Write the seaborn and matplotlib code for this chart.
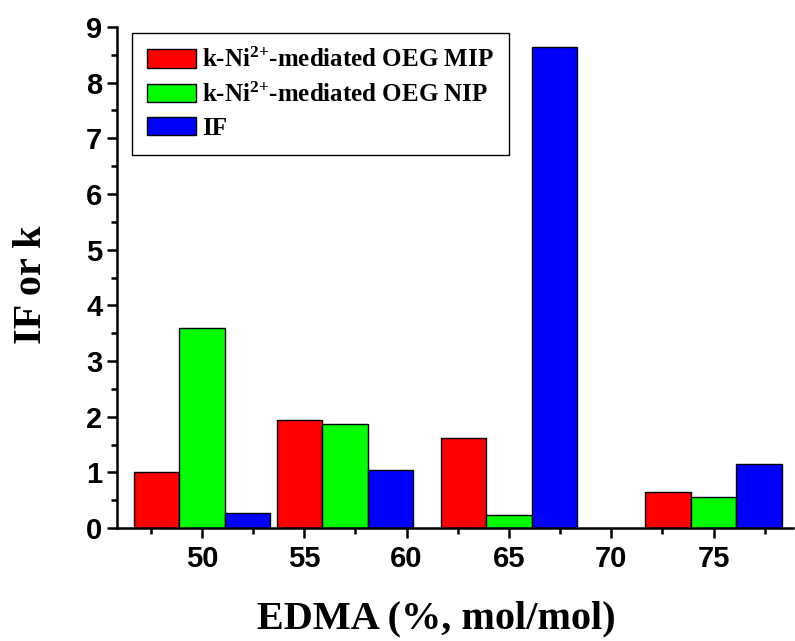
import pandas as pd
import seaborn as sns
import matplotlib.pyplot as plt
from matplotlib.ticker import MultipleLocator

sns.set_style('ticks')
plt.rcParams.update({
    'font.family': ['Liberation Sans', 'DejaVu Sans'],
    'font.weight': 'bold',
    'mathtext.fontset': 'custom',
    'mathtext.rm': 'Liberation Serif:bold',
    'mathtext.bf': 'Liberation Serif:bold',
    'mathtext.default': 'rm',
    'axes.linewidth': 1.8,
    'axes.edgecolor': 'black',
    'text.color': 'black',
    'axes.labelcolor': 'black',
    'xtick.color': 'black',
    'ytick.color': 'black',
})

# data
edma = [50, 57, 65, 75]
mip_k = [1.00, 1.95, 1.62, 0.65]
nip_k = [3.59, 1.87, 0.24, 0.56]
imprint_factor = [0.27, 1.04, 8.64, 1.16]
series_names = ['k-Ni$^{2{+}}$-mediated OEG MIP', 'k-Ni$^{2{+}}$-mediated OEG NIP', 'IF']
colors = ['#ff0000', '#00ff00', '#0000ff']

rows = []
for name, vals in zip(series_names, [mip_k, nip_k, imprint_factor]):
    for x, v in zip(edma, vals):
        rows.append({'EDMA': x, 'Series': name, 'Value': v})
df = pd.DataFrame(rows)

fig = plt.figure(figsize=(7.95, 6.41), dpi=100)
ax = fig.add_axes([0.147, 0.176, 0.851, 0.782])

sns.barplot(data=df, x='EDMA', y='Value', hue='Series', hue_order=series_names,
            palette=colors, native_scale=True, width=0.951, errorbar=None,
            edgecolor='black', linewidth=1.0, saturation=1, ax=ax)

ax.set_xlim(45.85, 78.9)
ax.set_ylim(0, 9)
ax.xaxis.set_major_locator(MultipleLocator(5))
ax.xaxis.set_minor_locator(MultipleLocator(2.5))
ax.yaxis.set_major_locator(MultipleLocator(1))
ax.yaxis.set_minor_locator(MultipleLocator(0.5))
ax.tick_params(which='major', direction='out', length=7, width=1.8, labelsize=21)
ax.tick_params(axis='x', which='major', pad=5)
ax.tick_params(which='minor', direction='out', length=4, width=1.8)
for lab in ax.get_xticklabels() + ax.get_yticklabels():
    lab.set_fontweight('bold')

sns.despine(ax=ax)

ax.set_xlabel('EDMA (%, mol/mol)', fontsize=29, fontweight='bold',
              family='Liberation Serif', labelpad=20)
ax.xaxis.label.set_x(0.472)
ax.set_ylabel('IF or k', fontsize=29, fontweight='bold',
              family='Liberation Serif')
ax.yaxis.set_label_coords(-0.099, 0.485)

leg = ax.legend(loc='upper left', bbox_to_anchor=(0.022, 0.988), frameon=True,
                fancybox=False, framealpha=1, edgecolor='black',
                prop={'family': 'Liberation Serif', 'weight': 'bold', 'size': 18},
                handlelength=1.96, handleheight=0.76, labelspacing=0.4,
                borderpad=0.6, handletextpad=0.25, borderaxespad=0)
leg.get_frame().set_linewidth(1.0)

fig.savefig('out.png', dpi=100)
